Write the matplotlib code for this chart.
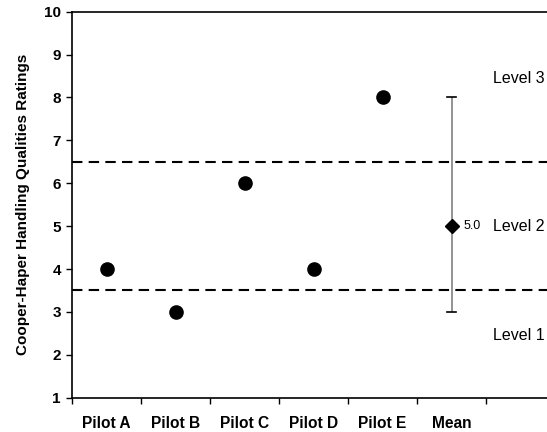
import matplotlib
matplotlib.use("Agg")
import matplotlib.pyplot as plt
import numpy as np

plt.rcParams['font.family'] = ['Liberation Sans', 'DejaVu Sans']

# data
pilots = ["Pilot A", "Pilot B", "Pilot C", "Pilot D", "Pilot E"]
ratings = [4, 3, 6, 4, 8]
mean_label = "Mean"
mean_value = 5.0
mean_low = 3
mean_high = 8
level_bounds = [3.5, 6.5]
level_names = ["Level 1", "Level 2", "Level 3"]
level_y = [2.45, 5.0, 8.45]

fig = plt.figure(figsize=(5.47, 4.32), dpi=100)
ax = fig.add_axes([72/547, 34.3/432, 1 - 72/547, (397.7 - 11.7)/432])

x_pilots = np.arange(len(pilots)) + 0.5
ax.plot(x_pilots, ratings, 'o', color='black', markersize=9.5, linestyle='none', zorder=3)

# mean with range
xm = len(pilots) + 0.5
ax.errorbar([xm], [mean_value],
            yerr=[[mean_value - mean_low], [mean_high - mean_value]],
            fmt='none', ecolor='#808080', elinewidth=1.2, capsize=0, zorder=2)
ax.plot([xm - 0.065, xm + 0.065], [mean_low, mean_low], color='black', lw=1.2, zorder=3)
ax.plot([xm - 0.065, xm + 0.065], [mean_high, mean_high], color='black', lw=1.2, zorder=3)
ax.plot([xm], [mean_value], 'D', color='black', markersize=7, zorder=4)
ax.text(xm + 0.18, mean_value, "%.1f" % mean_value, fontsize=9, va='center', ha='left')

for b in level_bounds:
    ax.axhline(b, color='black', linestyle=(0, (5, 3)), linewidth=1.5, zorder=1)

xmax = (547 - 72) / 69.0
for name, y in zip(level_names, level_y):
    ax.text(xmax - 0.03, y, name, fontsize=11.5, ha='right', va='center')

ax.set_xlim(0, xmax)
ax.set_ylim(1, 10)
ax.set_yticks(range(1, 11))
ax.set_yticklabels([str(v) for v in range(1, 11)], fontweight='bold', fontsize=11)
ax.set_xticks(np.arange(0, 7))
ax.set_xticklabels([])
ax.set_xticks(np.arange(len(pilots) + 1) + 0.5, minor=True)
ax.set_xticklabels(pilots + [mean_label], minor=True, fontweight='bold', fontsize=11.2)
ax.tick_params(axis='x', which='minor', length=0, pad=13)
ax.tick_params(axis='x', which='major', direction='out', length=4, width=1)
ax.tick_params(axis='y', direction='out', length=4, width=1, pad=4)
ax.spines['right'].set_visible(False)
for s in ['left', 'bottom', 'top']:
    ax.spines[s].set_linewidth(1.2)

ax.set_ylabel("Cooper-Haper Handling Qualities Ratings", fontweight='bold', fontsize=11, labelpad=10)

fig.savefig("out.png", dpi=100)
